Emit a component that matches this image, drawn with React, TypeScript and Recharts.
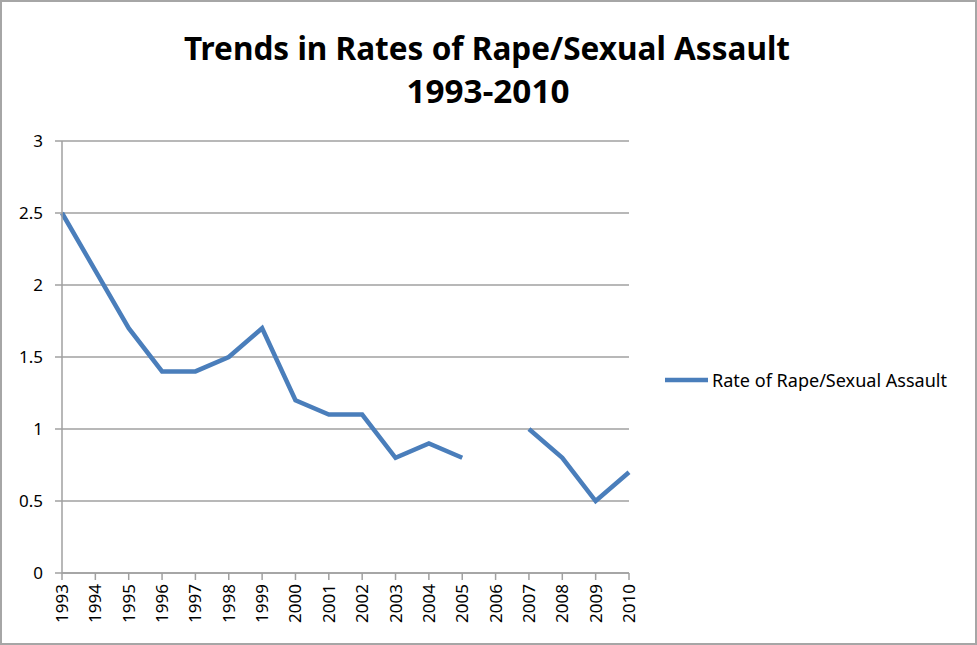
import React from 'react';
import { LineChart, Line, XAxis, YAxis, CartesianGrid } from 'recharts';

const years = ['1993', '1994', '1995', '1996', '1997', '1998', '1999', '2000', '2001', '2002', '2003', '2004', '2005', '2006', '2007', '2008', '2009', '2010'];
const rates: (number | null)[] = [2.5, 2.1, 1.7, 1.4, 1.4, 1.5, 1.7, 1.2, 1.1, 1.1, 0.8, 0.9, 0.8, null, 1.0, 0.8, 0.5, 0.7];
const yTicks = [0, 0.5, 1, 1.5, 2, 2.5, 3];
const seriesName = 'Rate of Rape/Sexual Assault';
const titleLines = ['Trends in Rates of Rape/Sexual Assault', '1993-2010'];

const data = years.map((year, i) => ({ year, rate: rates[i] }));

const FONT = '"Noto Sans", "Open Sans", sans-serif';
const GRID = '#a0a0a0';
const BLUE = '#4a7ebb';

const YearTick = (props: any) => {
  const { x, y, payload } = props;
  return (
    <text
      x={0}
      y={0}
      transform={`translate(${x + 6},${y + 2}) rotate(-90)`}
      textAnchor="end"
      fontFamily={FONT}
      fontSize={17}
      fill="#000"
    >
      {payload.value}
    </text>
  );
};

export default function App() {
  return (
    <div
      style={{
        position: 'absolute',
        left: 0,
        top: 0,
        width: 977,
        height: 645,
        background: '#fff',
        boxSizing: 'border-box',
        border: '2px solid #a6a6a6',
        overflow: 'hidden',
      }}
    >
      <div style={{ position: 'absolute', left: -2, top: -2 }}>
        <LineChart
          width={977}
          height={645}
          data={data}
          margin={{ top: 141, right: 348, bottom: 0, left: 12 }}
        >
          <CartesianGrid vertical={false} stroke={GRID} strokeWidth={1.5} />
          <XAxis
            dataKey="year"
            interval={0}
            padding={{ left: 0, right: 0 }}
            tick={<YearTick />}
            tickLine={{ stroke: GRID, strokeWidth: 1.5 }}
            axisLine={{ stroke: GRID, strokeWidth: 1.5 }}
            tickSize={7}
            height={72}
          />
          <YAxis
            domain={[0, 3]}
            ticks={yTicks}
            width={50}
            tickSize={7}
            tickMargin={12}
            tickLine={{ stroke: GRID, strokeWidth: 1.5 }}
            axisLine={{ stroke: GRID, strokeWidth: 1.5 }}
            tick={{ fill: '#000', fontSize: 17, fontFamily: FONT }}
          />
          <Line
            type="linear"
            dataKey="rate"
            name={seriesName}
            stroke={BLUE}
            strokeWidth={4.5}
            dot={false}
            activeDot={false}
            connectNulls={false}
            isAnimationActive={false}
          />
        </LineChart>
        <svg
          width={977}
          height={645}
          style={{ position: 'absolute', left: 0, top: 0, pointerEvents: 'none' }}
        >
          <text
            x={487}
            y={60}
            textAnchor="middle"
            fontFamily={FONT}
            fontWeight="bold"
            fontSize={32}
            textLength={606}
            lengthAdjust="spacingAndGlyphs"
          >
            {titleLines[0]}
          </text>
          <text
            x={488}
            y={103}
            textAnchor="middle"
            fontFamily={FONT}
            fontWeight="bold"
            fontSize={32}
            textLength={163}
            lengthAdjust="spacingAndGlyphs"
          >
            {titleLines[1]}
          </text>
          <line x1={665} y1={380} x2={708} y2={380} stroke={BLUE} strokeWidth={4.5} />
          <text
            x={712}
            y={387}
            fontFamily={FONT}
            fontSize={17.5}
            fill="#000"
            textLength={235}
            lengthAdjust="spacingAndGlyphs"
          >
            {seriesName}
          </text>
        </svg>
      </div>
    </div>
  );
}
